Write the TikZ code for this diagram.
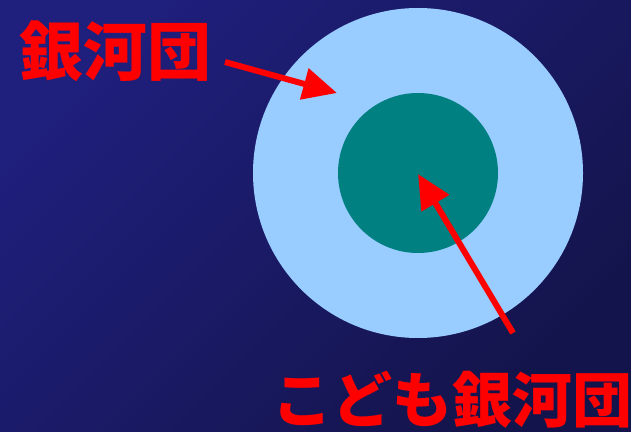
\documentclass[tikz,border=0pt]{standalone}
\usepackage{fontspec}
\newfontfamily\cjk{Noto Sans CJK JP}
\usetikzlibrary{arrows.meta}
\definecolor{bgA}{RGB}{31,31,125}
\definecolor{bgB}{RGB}{20,20,76}
\definecolor{lightblue}{RGB}{153,204,255}
\definecolor{tealc}{RGB}{0,128,128}
\tikzset{
  lbl/.style={text=red, font=\cjk\bfseries\fontsize{64}{64}\selectfont, inner sep=0pt},
  lblsmall/.style={lbl, font=\cjk\bfseries\fontsize{60}{60}\selectfont},
  redarrow/.style={draw=red, line width=6pt, -{Triangle[length=34pt,width=31pt]}}
}
\begin{document}
\begin{tikzpicture}[x=1pt,y=1pt]
\shade[top color=bgA, bottom color=bgB, shading angle=45] (0,0) rectangle (631,431);
\useasboundingbox (0,0) rectangle (631,431);
\fill[lightblue] (418,258) circle[radius=165];
\fill[tealc] (418,258) circle[radius=80];
\node[lbl] (cluster) at (115,380) {銀河団};
\node[lblsmall] (kid) at (452,31) {こども銀河団};
\coordinate (a1s) at (225,369);
\coordinate (a1e) at (337,338);
\coordinate (a2s) at (513,98);
\coordinate (a2e) at (418,257);
\draw[redarrow] (a1s) -- (a1e);
\draw[redarrow] (a2s) -- (a2e);
\end{tikzpicture}
\end{document}
